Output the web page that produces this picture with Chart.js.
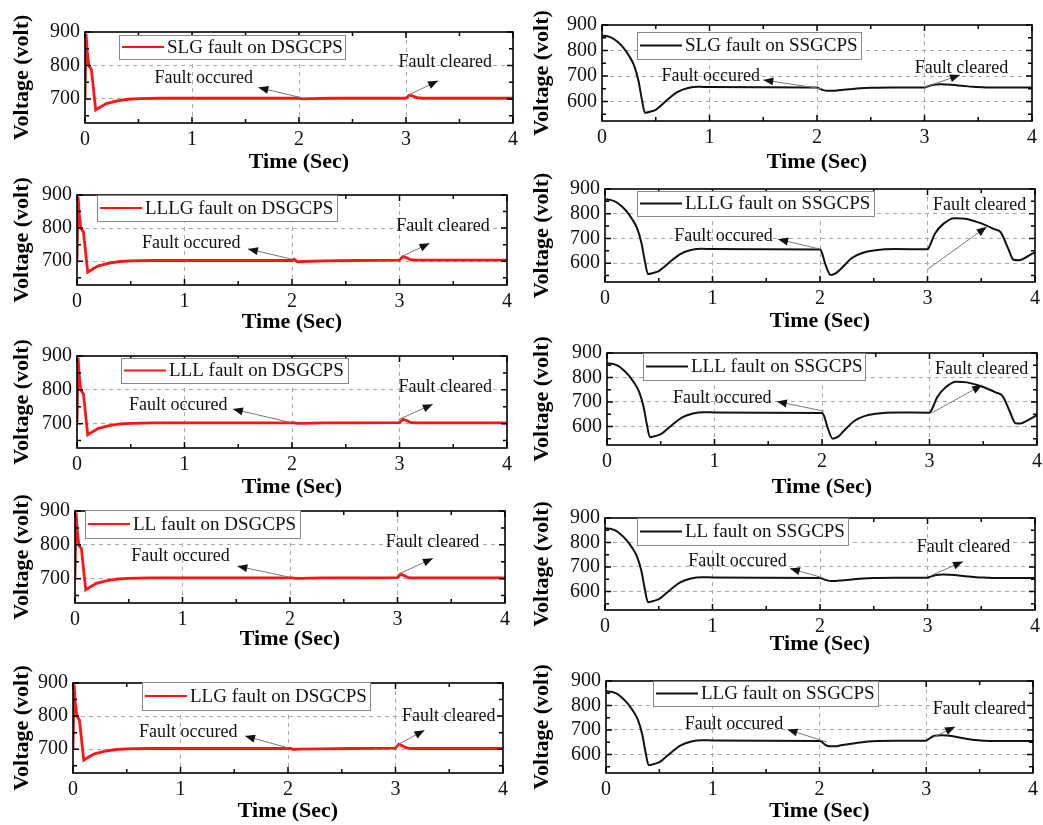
<!DOCTYPE html>
<html>
<head>
<meta charset="utf-8">
<script src="https://cdn.jsdelivr.net/npm/chart.js@4.4.1/dist/chart.umd.min.js"></script>
<style>
  html, body { margin: 0; padding: 0; background: #fff; }
  #wrap { position: relative; width: 1043px; height: 825px; overflow: hidden; background: #fff; }
  #wrap canvas { position: absolute; }
</style>
</head>
<body>
<div id="wrap"></div>
<script>
// ---- data ----
// DSGCPS (left column), time in seconds
const timeDs = [0, 0.01, 0.02, 0.035, 0.06, 0.1, 0.15, 0.2, 0.3, 0.4, 0.5, 0.7, 1, 1.5, 2, 2.02, 2.05, 2.1, 2.3, 2.6, 3, 3.03, 3.06, 3.1, 3.15, 3.5, 4];
const slgDs  = [700, 895, 845, 800, 788, 667, 677, 686, 694, 699, 701, 702, 702, 702, 702, 701, 700, 701, 702, 702, 702, 711, 709, 704, 702, 702, 702];
const lllgDs = [700, 895, 845, 800, 788, 667, 677, 686, 694, 699, 701, 702, 702, 702, 702, 706, 698, 699, 701, 702, 703, 714, 711, 705, 703, 703, 703];
const lllDs  = [700, 895, 845, 800, 788, 667, 677, 686, 694, 699, 701, 702, 702, 702, 702, 702, 701, 701, 702, 702, 703, 713, 710, 704, 702, 702, 702];
const llDs   = [700, 895, 845, 800, 788, 667, 677, 686, 694, 699, 701, 702, 702, 702, 702, 702, 701, 701, 702, 702, 703, 713, 709, 703, 702, 702, 702];
const llgDs  = [700, 895, 845, 800, 788, 667, 677, 686, 694, 699, 701, 702, 702, 702, 702, 703, 699, 700, 701, 702, 703, 715, 711, 704, 702, 702, 702];

// SSGCPS (right column)
const timeSs = [0, 0.05, 0.1, 0.15, 0.2, 0.25, 0.3, 0.34, 0.37, 0.4, 0.45, 0.5, 0.55, 0.6, 0.7, 0.8, 0.9, 1, 1.5, 2,
                2.02, 2.05, 2.1, 2.15, 2.2, 2.3, 2.4, 2.5, 2.7, 3, 3.02, 3.07, 3.15, 3.25, 3.35, 3.45, 3.55, 3.62, 3.68, 3.75, 3.8, 3.85, 3.9, 4];
const slgSs  = [858, 856, 848, 832, 810, 780, 740, 680, 610, 556, 561, 568, 585, 604, 637, 653, 658, 657, 656, 655,
                652, 646, 642, 642, 644, 648, 652, 654, 655, 655, 658, 665, 668, 666, 662, 658, 656, 655, 655, 655, 655, 655, 655, 655];
const lllgSs = [858, 856, 848, 832, 810, 780, 740, 680, 610, 556, 561, 568, 585, 604, 637, 653, 658, 657, 656, 655,
                640, 595, 552, 560, 580, 622, 642, 651, 657, 656, 670, 720, 760, 782, 780, 768, 752, 738, 726, 660, 614, 612, 620, 645];
const lllSs  = [858, 856, 848, 832, 810, 780, 740, 680, 610, 556, 561, 568, 585, 604, 637, 653, 658, 657, 656, 655,
                642, 598, 550, 558, 580, 622, 643, 652, 657, 656, 668, 718, 760, 783, 780, 768, 752, 738, 724, 658, 613, 612, 622, 646];
const llSs   = [858, 856, 848, 832, 810, 780, 740, 680, 610, 556, 561, 568, 585, 604, 637, 653, 658, 657, 656, 655,
                652, 647, 643, 643, 645, 649, 653, 655, 656, 656, 659, 666, 669, 667, 662, 658, 656, 655, 655, 655, 655, 655, 655, 655];
const llgSs  = [858, 856, 848, 832, 810, 780, 740, 680, 610, 556, 561, 568, 585, 604, 637, 653, 658, 657, 656, 655,
                652, 640, 633, 633, 637, 644, 650, 654, 656, 656, 662, 675, 678, 674, 666, 659, 656, 655, 655, 655, 655, 655, 655, 655];

// axis ticks
const xTicks = [0, 1, 2, 3, 4];
const xMinor = [0.5, 1.5, 2.5, 3.5];
const yTicksDs = [700, 800, 900];
const yMinorDs = [650, 750, 850];
const yTicksSs = [600, 700, 800, 900];
const yMinorSs = [550, 650, 750, 850];
const yRangeDs = [628, 900];
const yRangeSs = [524, 900];

const labels = ["SLG", "LLLG", "LLL", "LL", "LLG"];
const dsSeries = [slgDs, lllgDs, lllDs, llDs, llgDs];
const ssSeries = [slgSs, lllgSs, lllSs, llSs, llgSs];

// ---- layout (pixel boxes of each plot area) ----
// box: [left, top, right, bottom], titleY: centre of "Time (Sec)"
const leftLayout = [
  { box: [85, 29, 513, 123], titleY: 163, legend: [34, 3, 226, 24] },
  { box: [77, 192, 507, 285], titleY: 323, legend: [20, 0, 240, 26] },
  { box: [77, 353, 507, 448], titleY: 488, legend: [44, 2, 227, 25] },
  { box: [75, 508, 505, 603], titleY: 640, legend: [10, -1, 215, 28] },
  { box: [73, 680, 503, 773], titleY: 812, legend: [69, -1, 228, 28] }
];
const rightLayout = [
  { box: [602, 22, 1032, 121], titleY: 163, legend: [35, 7, 224, 27] },
  { box: [605, 186, 1035, 282], titleY: 322, legend: [32, 2, 237, 25] },
  { box: [607, 350, 1037, 445], titleY: 488, legend: [36, 0, 222, 27] },
  { box: [605, 515, 1035, 610], titleY: 645, legend: [32, 0, 211, 27] },
  { box: [606, 678, 1033, 773], titleY: 812, legend: [47, 0, 225, 25] }
];

// annotation anchors in data units: text [t, v], arrow tail [t, v], arrow head [t, v]
const occuredNotes = [
  { text: [1.57, 763], tail: [2.03, 703], head: [1.62, 734] },
  { text: [1.52, 754], tail: [2.0, 706], head: [1.59, 737] },
  { text: [1.40, 754], tail: [1.98, 704], head: [1.45, 743] },
  { text: [1.44, 766], tail: [2.0, 704], head: [1.51, 737] },
  { text: [1.53, 751], tail: [2.0, 704], head: [1.6, 740] },
  { text: [1.47, 700], tail: [2.05, 650], head: [1.5, 685] },
  { text: [1.56, 708], tail: [2.0, 657], head: [1.61, 697] },
  { text: [1.53, 714], tail: [2.02, 662], head: [1.58, 702] },
  { text: [1.69, 722], tail: [2.03, 655], head: [1.72, 694] },
  { text: [1.66, 722], tail: [2.07, 650], head: [1.7, 702] }
];
const clearedNotes = [
  { text: [2.93, 809], tail: [3.02, 711], head: [3.30, 754] },
  { text: [2.97, 806], tail: [3.02, 714], head: [3.28, 754] },
  { text: [2.99, 809], tail: [2.99, 712], head: [3.31, 757] },
  { text: [2.89, 809], tail: [3.0, 712], head: [3.33, 760] },
  { text: [3.06, 800], tail: [3.01, 712], head: [3.27, 757] },
  { text: [2.91, 732], tail: [3.0, 656], head: [3.33, 704] },
  { text: [3.05, 834], tail: [3.0, 575], head: [3.55, 747] },
  { text: [3.05, 833], tail: [3.02, 655], head: [3.49, 769] },
  { text: [2.9, 781], tail: [3.04, 666], head: [3.33, 722] },
  { text: [3.06, 785], tail: [3.05, 666], head: [3.27, 713] }
];

const SERIF = "'Liberation Serif', 'Times New Roman', serif";
const PAD_T = 14, PAD_R = 12;

function drawArrow(ctx, x1, y1, x2, y2) {
  ctx.strokeStyle = "#777";
  ctx.lineWidth = 1;
  ctx.beginPath();
  ctx.moveTo(x1, y1);
  ctx.lineTo(x2, y2);
  ctx.stroke();
  const ang = Math.atan2(y2 - y1, x2 - x1);
  const len = 10, half = 4;
  const bx = x2 - len * Math.cos(ang), by = y2 - len * Math.sin(ang);
  ctx.fillStyle = "#111";
  ctx.beginPath();
  ctx.moveTo(x2, y2);
  ctx.lineTo(bx + half * Math.sin(ang), by - half * Math.cos(ang));
  ctx.lineTo(bx - half * Math.sin(ang), by + half * Math.cos(ang));
  ctx.closePath();
  ctx.fill();
}

// frame, inward ticks, legend box and fault annotations
function decorPlugin(p) {
  return {
    id: "decor",
    afterDatasetsDraw(chart) {
      const { ctx, chartArea: a, scales } = chart;
      const x = scales.x, y = scales.y;
      ctx.save();

      // inward tick marks on all four sides
      ctx.strokeStyle = "#000";
      ctx.lineWidth = 1.5;
      const tick = (vals, len, horiz) => {
        vals.forEach(v => {
          ctx.beginPath();
          if (horiz) {
            const px = x.getPixelForValue(v);
            ctx.moveTo(px, a.bottom); ctx.lineTo(px, a.bottom - len);
            ctx.moveTo(px, a.top); ctx.lineTo(px, a.top + len);
          } else {
            const py = y.getPixelForValue(v);
            ctx.moveTo(a.left, py); ctx.lineTo(a.left + len, py);
            ctx.moveTo(a.right, py); ctx.lineTo(a.right - len, py);
          }
          ctx.stroke();
        });
      };
      tick(xTicks, 6, true);
      tick(xMinor, 4, true);
      tick(p.yTicks, 6, false);
      tick(p.yMinor, 4, false);

      // plot frame
      ctx.lineWidth = 1.6;
      ctx.strokeRect(a.left, a.top, a.right - a.left, a.bottom - a.top);

      // legend box
      const [dx, dy, w, h] = p.legend;
      const lx = a.left + dx, ly = a.top + dy;
      ctx.fillStyle = "#fff";
      ctx.fillRect(lx, ly, w, h);
      ctx.strokeStyle = "#888";
      ctx.lineWidth = 1;
      ctx.strokeRect(lx + 0.5, ly + 0.5, w, h);
      const ds = chart.data.datasets[0];
      ctx.strokeStyle = ds.borderColor;
      ctx.lineWidth = 2;
      ctx.beginPath();
      ctx.moveTo(lx + 3, ly + h / 2);
      ctx.lineTo(lx + 45, ly + h / 2);
      ctx.stroke();
      ctx.fillStyle = "#111";
      ctx.font = "19px " + SERIF;
      ctx.textBaseline = "middle";
      ctx.textAlign = "left";
      ctx.fillText(ds.label, lx + 48, ly + h / 2 + 1);

      // fault annotations
      const px = pt => [x.getPixelForValue(pt[0]), y.getPixelForValue(pt[1])];
      [[p.occ, "right", "Fault occured"], [p.clr, "left", "Fault cleared"]].forEach(([n, align, txt]) => {
        const [tx, ty] = px(n.text);
        const [ax, ay] = px(n.tail);
        const [hx, hy] = px(n.head);
        drawArrow(ctx, ax, ay, hx, hy);
        ctx.fillStyle = "#111";
        ctx.font = "18px " + SERIF;
        ctx.textAlign = align;
        ctx.textBaseline = "middle";
        ctx.fillText(txt, tx, ty);
      });

      ctx.restore();
    }
  };
}

const wrap = document.getElementById("wrap");

function makePanel(p) {
  const [bl, bt, br, bb] = p.box;
  const cx = p.col, cy = bt - PAD_T;
  const cw = br - cx + PAD_R;
  const ch = p.titleY + 13 - cy;
  const canvas = document.createElement("canvas");
  canvas.width = cw;
  canvas.height = ch;
  canvas.style.left = cx + "px";
  canvas.style.top = cy + "px";
  canvas.style.width = cw + "px";
  canvas.style.height = ch + "px";
  wrap.appendChild(canvas);

  const yAxisWidth = bl - cx;
  const xAxisHeight = ch - PAD_T - (bb - bt);

  new Chart(canvas.getContext("2d"), {
    type: "line",
    data: {
      datasets: [{
        label: p.label,
        data: p.time.map((t, k) => ({ x: t, y: p.values[k] })),
        borderColor: p.color,
        borderWidth: p.width,
        pointRadius: 0,
        fill: false,
        tension: 0,
        cubicInterpolationMode: p.smooth ? "monotone" : "default"
      }]
    },
    options: {
      responsive: false,
      animation: false,
      devicePixelRatio: 1,
      events: [],
      layout: { padding: { top: PAD_T, right: PAD_R, left: 0, bottom: 0 } },
      plugins: { legend: { display: false }, tooltip: { enabled: false } },
      scales: {
        x: {
          type: "linear",
          min: 0,
          max: 4,
          afterBuildTicks: s => { s.ticks = xTicks.map(v => ({ value: v })); },
          afterFit: s => { s.height = xAxisHeight; },
          grid: {
            drawTicks: false,
            color: c => (c.tick && (c.tick.value === 0 || c.tick.value === 4)) ? "rgba(0,0,0,0)" : "#aaaaaa",
            lineWidth: 1
          },
          border: { display: false, dash: [4, 4] },
          ticks: {
            color: "#111",
            padding: 5,
            maxRotation: 0,
            font: { family: SERIF, size: 20 },
            callback: v => String(v)
          },
          title: {
            display: true,
            text: "Time (Sec)",
            color: "#000",
            font: { family: SERIF, size: 22, weight: "bold" },
            padding: { top: 0, bottom: 0 }
          }
        },
        y: {
          type: "linear",
          min: p.yRange[0],
          max: p.yRange[1],
          afterBuildTicks: s => { s.ticks = p.yTicks.map(v => ({ value: v })); },
          afterFit: s => { s.width = yAxisWidth; },
          grid: {
            drawTicks: false,
            color: c => (c.tick && c.tick.value >= p.yRange[1]) ? "rgba(0,0,0,0)" : "#aaaaaa",
            lineWidth: 1
          },
          border: { display: false, dash: [4, 4] },
          ticks: {
            color: "#111",
            padding: 5,
            font: { family: SERIF, size: 20 },
            callback: v => String(v)
          },
          title: {
            display: true,
            text: "Voltage (volt)",
            color: "#000",
            font: { family: SERIF, size: 22, weight: "bold" },
            padding: { top: 9, bottom: 0 }
          }
        }
      }
    },
    plugins: [decorPlugin(p)]
  });
}

labels.forEach((name, i) => {
  makePanel(Object.assign({}, leftLayout[i], {
    col: 0,
    label: name + " fault on DSGCPS",
    time: timeDs,
    values: dsSeries[i],
    color: "#ff1414",
    width: 2.8,
    smooth: false,
    yRange: yRangeDs,
    yTicks: yTicksDs,
    yMinor: yMinorDs,
    occ: occuredNotes[i],
    clr: clearedNotes[i]
  }));
  makePanel(Object.assign({}, rightLayout[i], {
    col: 520,
    label: name + " fault on SSGCPS",
    time: timeSs,
    values: ssSeries[i],
    color: "#111",
    width: 2,
    smooth: true,
    yRange: yRangeSs,
    yTicks: yTicksSs,
    yMinor: yMinorSs,
    occ: occuredNotes[i + 5],
    clr: clearedNotes[i + 5]
  }));
});
</script>
</body>
</html>
